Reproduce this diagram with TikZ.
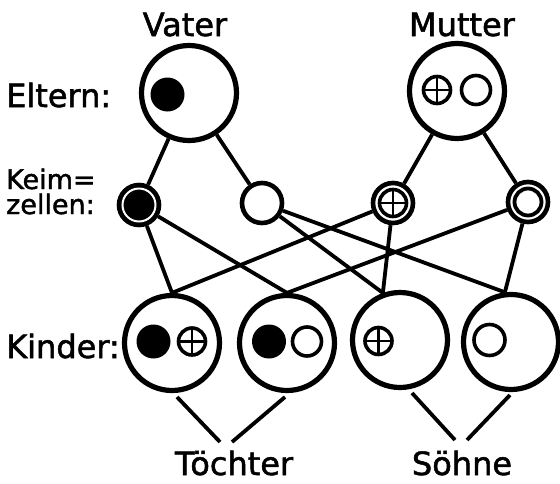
\documentclass[tikz,border=0pt]{standalone}
\usepackage{fontspec}
\setmainfont{DejaVu Sans}
\newfontfamily\labfont{DejaVu Sans}[FakeBold=1.6]
\begin{document}
\begin{tikzpicture}[x=1pt,y=-1pt,
  lab/.style={inner sep=0, font=\labfont\fontsize{32}{36}\selectfont},
  labsm/.style={inner sep=0, font=\labfont\fontsize{27}{30}\selectfont},
  big/.style={circle, draw, line width=5.2pt, minimum size=95pt, inner sep=0},
  germ/.style={circle, draw, line width=4.6pt, minimum size=40pt, inner sep=0},
  link/.style={line width=3.8pt},
  dotsym/.style={circle, fill, minimum size=34pt, inner sep=0},
  ringsym/.style={circle, draw, line width=3.6pt, minimum size=29pt, inner sep=0},
  plussym/.style={circle, draw, line width=3.6pt, minimum size=27pt, inner sep=0,
    path picture={\draw[line width=2.6pt] (path picture bounding box.north) -- (path picture bounding box.south)
      (path picture bounding box.west) -- (path picture bounding box.east);}}
]
\useasboundingbox (0,0) rectangle (560,483);

% labels
\node[lab, anchor=base] (vaterlab) at (185,36) {Vater};
\node[lab, anchor=base] (mutterlab) at (462,36) {Mutter};
\node[lab, anchor=base west] (eltern) at (6,107) {Eltern:};
\node[labsm, anchor=base west] (keim) at (6,189) {Keim=};
\node[labsm, anchor=base west] (zellen) at (6,214) {zellen:};
\node[lab, anchor=base west] (kinder) at (6,358) {Kinder:};
\node[lab, anchor=base] (toechter) at (234,475) {Töchter};
\node[lab, anchor=base] (soehne) at (462,475) {Söhne};

% parents
\node[big] (vater) at (189,93) {};
\node[dotsym] (vdot) at (167.5,94.5) {};
\node[big] (mutter) at (457,91) {};
\node[plussym] (mplus) at (437,90) {};
\node[ringsym] (mring) at (476,90) {};

% germ cells
\node[germ, fill=black] (k1) at (139,205) {};
\node[circle, draw=white, line width=2pt, minimum size=33pt, inner sep=0] (k1gap) at (k1) {};
\node[germ] (k2) at (262,203) {};
\node[germ] (k3) at (393,203) {};
\node[plussym, minimum size=27pt] (k3in) at (k3) {};
\node[germ] (k4) at (528,202) {};
\node[ringsym, minimum size=27pt, line width=3.8pt] (k4in) at (k4) {};

% children
\node[big] (c1) at (172,343) {};
\node[dotsym] (c1dot) at (153.5,341.5) {};
\node[plussym] (c1plus) at (192,341.5) {};
\node[big] (c2) at (287,343) {};
\node[dotsym] (c2dot) at (269,341.5) {};
\node[ringsym] (c2ring) at (307,341.5) {};
\node[big] (c3) at (400,340) {};
\node[plussym] (c3plus) at (378.5,341) {};
\node[big] (c4) at (511,342) {};
\node[ringsym, minimum size=31pt] (c4ring) at (489.5,340) {};

% parent -> germ cells
\draw[link] (vater) -- (k1);
\draw[link] (vater) -- (k2);
\draw[link] (mutter) -- (k3);
\draw[link] (mutter) -- (k4);

% germ cells -> children
\draw[link] (k1) -- (c1.north);
\draw[link] (k1) -- (c2.north);
\draw[link] (k2) -- (c3.110);
\draw[link] (k2) -- (c4.97);
\draw[link] (k3) -- (c1.north);
\draw[link] (k3) -- (c3.110);
\draw[link] (k4) -- (c2.north);
\draw[link] (k4) -- (c4.97);

% children -> groups
\coordinate (c1b) at (177,397);
\coordinate (tl1) at (220,442);
\coordinate (c2b) at (285,397);
\coordinate (tl2) at (232,442);
\coordinate (c3b) at (412,393);
\coordinate (sl1) at (455,440);
\coordinate (c4b) at (510,395);
\coordinate (sl2) at (467,440);
\draw[link] (c1b) -- (tl1);
\draw[link] (c2b) -- (tl2);
\draw[link] (c3b) -- (sl1);
\draw[link] (c4b) -- (sl2);
\end{tikzpicture}
\end{document}
